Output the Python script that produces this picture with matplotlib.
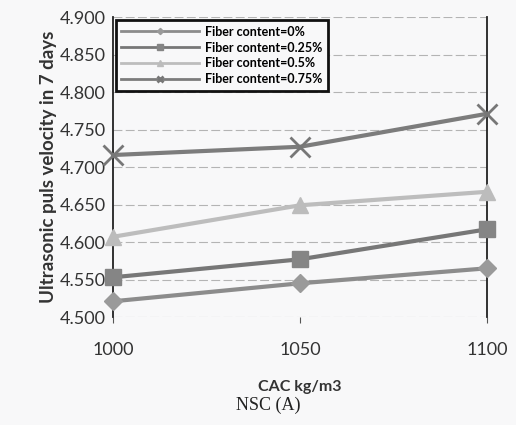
import matplotlib.pyplot as plt

# velocidad de pulso ultrasonico a 7 dias, NSC (A)
cac = [1000, 1050, 1100]
fibra_0 = [4.521, 4.545, 4.565]
fibra_025 = [4.553, 4.577, 4.617]
fibra_05 = [4.607, 4.649, 4.667]
fibra_075 = [4.716, 4.727, 4.771]

etiquetas = ["Fiber content=0%", "Fiber content=0.25%",
             "Fiber content=0.5%", "Fiber content=0.75%"]
yticks = [4.5, 4.55, 4.6, 4.65, 4.7, 4.75, 4.8, 4.85, 4.9]

plt.rcParams['font.family'] = ['Lato', 'DejaVu Sans']
fondo = '#f8f8f9'

fig = plt.figure(figsize=(5.16, 4.25), dpi=100)
fig.patch.set_facecolor(fondo)
ax = fig.add_axes([0.219, 0.254, 0.725, 0.706])
ax.set_facecolor(fondo)

ax.plot(cac, fibra_0, color='#8c8c8c', lw=3, marker='D', ms=9,
        mfc='#9a9a9a', mec='#9a9a9a', label=etiquetas[0], clip_on=False, zorder=3)
ax.plot(cac, fibra_025, color='#777777', lw=3, marker='s', ms=12,
        mfc='#858585', mec='#858585', label=etiquetas[1], clip_on=False, zorder=3)
ax.plot(cac, fibra_05, color='#bdbdbd', lw=3, marker='^', ms=12,
        mfc='#bcbcbc', mec='#bcbcbc', label=etiquetas[2], clip_on=False, zorder=3)
ax.plot(cac, fibra_075, color='#7c7c7c', lw=3, marker='x', ms=14, mew=2,
        mfc='#777777', mec='#777777', label=etiquetas[3], clip_on=False, zorder=3)

ax.set_xlim(1000, 1100)
ax.set_ylim(4.5, 4.9)
ax.set_xticks(cac)
ax.set_yticks(yticks)
ax.set_yticklabels([f"{v:.3f}" for v in yticks], fontsize=13, color='#333333')
ax.set_xticklabels([str(c) for c in cac], fontsize=13, color='#333333')
ax.tick_params(axis='y', length=0, pad=5)
ax.tick_params(axis='x', length=4, direction='out', pad=14, color='#555555')

ax.grid(True, axis='y', color='#b4b4b4', lw=0.8, ls=(0, (8, 3)))
for lado in ['left', 'right']:
    ax.spines[lado].set_color('#222222')
    ax.spines[lado].set_linewidth(1.3)
for lado in ['top', 'bottom']:
    ax.spines[lado].set_visible(False)

ax.set_ylabel("Ultrasonic puls velocity in 7 days", fontsize=13.5,
              fontweight='bold', color='#333333', labelpad=2)
ax.set_xlabel("CAC kg/m3", fontsize=11.5, fontweight='bold', color='#333333', labelpad=16)
fig.text(0.52, 0.035, "NSC (A)", fontsize=13, family='Liberation Serif',
         ha='center', color='#222222')

leg = ax.legend(loc='upper left', bbox_to_anchor=(-0.01, 1.01),
                prop={'weight': 'bold', 'size': 9}, frameon=True, fancybox=False,
                markerscale=0.35, handlelength=6.2, borderpad=0.45, labelspacing=0.3,
                handletextpad=0.5)
leg.get_frame().set_edgecolor('#111111')
leg.get_frame().set_linewidth(2)
leg.get_frame().set_facecolor(fondo)
leg.get_frame().set_alpha(1)
for linea in leg.get_lines():
    linea.set_linewidth(2)

plt.savefig("out.png", dpi=100, facecolor=fig.get_facecolor())
